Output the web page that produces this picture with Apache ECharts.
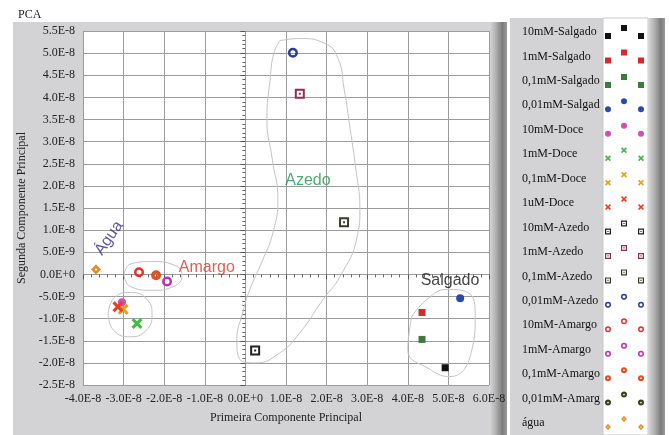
<!DOCTYPE html>
<html>
<head>
<meta charset="utf-8">
<script src="https://cdn.jsdelivr.net/npm/echarts@6/dist/echarts.min.js"></script>
<style>html,body{margin:0;padding:0;background:#fff;}#chart{width:669px;height:435px;}</style>
</head>
<body>
<div id="chart"></div>
<script>
// ---- data (values in units of 1E-8) ----
const seriesNames = ['10mM-Salgado','1mM-Salgado','0,1mM-Salgado','0,01mM-Salgado',
  '10mM-Doce','1mM-Doce','0,1mM-Doce','1uM-Doce',
  '10mM-Azedo','1mM-Azedo','0,1mM-Azedo','0,01mM-Azedo',
  '10mM-Amargo','1mM-Amargo','0,1mM-Amargo','0,01mM-Amargo','água'];
const pc1 = [4.92, 4.35, 4.35, 5.29, -3.04, -2.67, -3.01, -3.14, 0.24, 1.34, 2.43, 1.17, -2.62, -1.93, -2.20, null, -3.68];
const pc2 = [-2.11, -0.86, -1.47, -0.54, -0.63, -1.11, -0.79, -0.73, -1.72, 4.08, 1.18, 5.01, 0.05, -0.16, -0.02, null, 0.11];

const xTicks = {min: -4, max: 6, interval: 1};
const yTicks = {min: -2.5, max: 5.5, interval: 0.5};

// group outlines (hand traced, data units)
const outlineAmargo = [[-2.99,-0.02],[-2.84,0.23],[-2.30,0.29],[-1.73,0.20],[-1.56,-0.02],[-1.76,-0.27],[-2.30,-0.36],[-2.84,-0.27],[-2.99,-0.02]];
const outlineDoce = [[-3.38,-0.91],[-3.24,-0.54],[-2.84,-0.41],[-2.45,-0.54],[-2.30,-0.91],[-2.45,-1.27],[-2.84,-1.41],[-3.24,-1.27],[-3.38,-0.91]];
const outlineSalgado = [[4.10,-0.95],[4.47,-0.57],[4.97,-0.34],[5.48,-0.41],[5.66,-0.95],[5.58,-1.70],[5.04,-2.31],[4.55,-2.15],[4.00,-1.70],[4.10,-0.95]];
const outlineAzedo = [[0.85,5.28],[1.34,5.33],[1.96,5.22],[2.28,4.88],[2.43,4.20],[2.58,3.29],[2.72,2.38],[2.82,1.47],[2.75,0.84],[2.33,-0.05],[1.91,-0.57],[1.34,-1.32],[0.85,-1.77],[0.24,-2.00],[-0.13,-1.93],[-0.21,-1.47],[-0.08,-0.91],[0.11,-0.34],[0.41,0.29],[0.68,0.95],[0.80,1.70],[0.66,2.61],[0.53,3.51],[0.61,4.42],[0.70,4.99],[0.85,5.28]];

const groupLabels = ['Salgado','Amargo','Azedo','Água'];
const groupLabelPos = [[5.04,-0.14],[-0.95,0.16],[1.54,2.13],[-3.36,0.82]];

// ---- styles ----
const colors = ['#111111','#d42a2a','#3d7a3d','#2a4aa8',
  '#d050b0','#44bb44','#e0a020','#e84020',
  '#222222','#8a3050','#3a3a28','#2a3a9a',
  '#e03030','#c030b0','#e05020','#404020','#e08a20'];
const markerTypes = ['sq','sq','sq','dot','dot','cross','cross','cross','hsq','hsq','hsq','ring','ring','ring','fring','fring','dring'];
const markerSizes = [7,7,7,8,8,11,11,11,10,10,10,10,10,10,10,10,10];
const labelColors = ['#111111','#d03a30','#1a9a4a','#3a2a8a'];
const labelRot = [0,0,0,55];

function circ(cx, cy, r, rev) {
  const s = rev ? 0 : 1;
  return `M${cx},${cy-r}A${r},${r} 0 1 ${s} ${cx},${cy+r}A${r},${r} 0 1 ${s} ${cx},${cy-r}Z`;
}
const SHAPES = {
  sq: (x,y,s) => `M${x},${y}h${s}v${s}h${-s}Z`,
  dot: (x,y,s) => circ(x+s/2, y+s/2, s/2, false),
  cross: (x,y,s) => {
    const k = s/10;
    const pts = [[0,2],[2,0],[5,3],[8,0],[10,2],[7,5],[10,8],[8,10],[5,7],[2,10],[0,8],[3,5]];
    return 'M' + pts.map(p => `${x+p[0]*k},${y+p[1]*k}`).join('L') + 'Z';
  },
  hsq: (x,y,s) => {
    const k = s/10;
    return `M${x},${y}h${s}v${s}h${-s}Z M${x+2*k},${y+2*k}v${6*k}h${6*k}v${-6*k}Z M${x+4*k},${y+4*k}h${2*k}v${2*k}h${-2*k}Z`;
  },
  ring: (x,y,s) => circ(x+s/2, y+s/2, s/2, false) + ' ' + circ(x+s/2, y+s/2, s*0.25, true),
  fring: (x,y,s) => circ(x+s/2, y+s/2, s/2, false) + ' ' + circ(x+s/2, y+s/2, s*0.14, true),
  dring: (x,y,s) => {
    const h = s/2, i = s*0.14;
    return `M${x+h},${y}L${x+s},${y+h}L${x+h},${y+s}L${x},${y+h}Z M${x+h},${y+h-i}L${x+h-i},${y+h}L${x+h},${y+h+i}L${x+h+i},${y+h}Z`;
  }
};
function legendIcon(t) {
  return 'path://' + [SHAPES[t](0,8,6), SHAPES[t](16,0,6), SHAPES[t](33,8,6)].join(' ');
}
function fmt(v) {
  const r = Math.round(v*10)/10;
  return (r*1e-8).toExponential(1).toUpperCase();
}

const serif = 'Liberation Serif';
const scatterSeries = seriesNames.map((n, i) => ({
  name: n,
  type: 'scatter',
  symbol: 'path://' + SHAPES[markerTypes[i]](0,0,10),
  symbolSize: markerSizes[i],
  itemStyle: {color: colors[i], opacity: 1},
  data: (pc1[i] === null) ? [] : [[pc1[i], pc2[i]]],
  z: 5
}));

const outlineSeries = [outlineAmargo, outlineDoce, outlineSalgado, outlineAzedo].map(o => ({
  type: 'line', data: o, smooth: 0.5, symbol: 'none', silent: true,
  lineStyle: {color: '#c4c4c4', width: 1}, z: 3
}));

const labelSeries = {
  type: 'scatter', symbolSize: 0, silent: true, z: 6,
  data: groupLabels.map((t, i) => ({
    name: t, value: groupLabelPos[i],
    label: {show: true, position: 'inside', formatter: t, color: labelColors[i], rotate: labelRot[i],
      fontFamily: 'Liberation Sans', fontSize: 16}
  }))
};

const barGrad = {type: 'linear', x: 0, y: 0, x2: 1, y2: 0, colorStops: [
  {offset: 0, color: '#dadada'}, {offset: 0.35, color: '#b4b4b4'}, {offset: 0.75, color: '#7c7c7c'}, {offset: 1, color: '#9a9a9a'}]};

const legendCommon = {
  orient: 'vertical', top: 25, padding: 0, itemHeight: 14, itemGap: 10.44, selectedMode: false
};

const chart = echarts.init(document.getElementById('chart'), null, {renderer: 'canvas'});
chart.setOption({
  animation: false,
  backgroundColor: '#ffffff',
  title: {text: 'PCA', left: 13, top: 4, textStyle: {fontFamily: serif, fontSize: 12, fontWeight: 'normal', color: '#222'}},
  graphic: [
    {type: 'rect', z: -10, silent: true, shape: {x: 13, y: 22, width: 494, height: 413}, style: {fill: '#d3d3d5'}},
    {type: 'rect', z: -9, silent: true, shape: {x: 489, y: 22, width: 18, height: 413}, style: {fill: barGrad}},
    {type: 'rect', z: -10, silent: true, shape: {x: 510, y: 18, width: 93, height: 417}, style: {fill: '#d3d3d5'}},
    {type: 'rect', z: -10, silent: true, shape: {x: 603, y: 18, width: 45, height: 417}, style: {fill: '#ffffff', stroke: '#c8c8c8', lineWidth: 1}},
    {type: 'rect', z: -9, silent: true, shape: {x: 648, y: 18, width: 17, height: 417}, style: {fill: barGrad}}
  ],
  grid: {left: 83, right: 180, top: 31, bottom: 50, show: true, backgroundColor: '#ffffff', borderWidth: 0, containLabel: false},
  legend: [
    Object.assign({}, legendCommon, {
      left: 517, align: 'left', itemWidth: 0,
      data: seriesNames.map(n => ({name: n, icon: 'none'})),
      textStyle: {fontFamily: serif, fontSize: 12, lineHeight: 14, color: '#111', width: 81, overflow: 'truncate', ellipsis: ''}
    }),
    Object.assign({}, legendCommon, {
      left: 605, align: 'left', itemWidth: 39,
      data: seriesNames.map((n, i) => ({name: n, icon: legendIcon(markerTypes[i])})),
      formatter: () => '',
      textStyle: {fontSize: 12, lineHeight: 14}
    })
  ],
  xAxis: {
    type: 'value', min: xTicks.min, max: xTicks.max, interval: xTicks.interval,
    name: 'Primeira Componente Principal', nameLocation: 'middle', nameGap: 27,
    nameTextStyle: {fontFamily: serif, fontSize: 12, color: '#222'},
    axisLine: {show: false},
    axisTick: {show: true, length: 5, lineStyle: {color: '#555'}},
    minorTick: {show: true, splitNumber: 5, length: 3, lineStyle: {color: '#666'}},
    axisLabel: {formatter: fmt, fontFamily: serif, fontSize: 12, color: '#222', margin: 8},
    splitLine: {show: true, lineStyle: {color: '#9c9c9c', width: 1}}
  },
  yAxis: {
    type: 'value', min: yTicks.min, max: yTicks.max, interval: yTicks.interval,
    name: 'Segunda Componente Principal', nameLocation: 'middle', nameGap: 54,
    nameTextStyle: {fontFamily: serif, fontSize: 12, color: '#222'},
    axisLine: {show: false},
    axisTick: {show: true, length: 5, lineStyle: {color: '#555'}},
    minorTick: {show: true, splitNumber: 5, length: 3, lineStyle: {color: '#666'}},
    axisLabel: {formatter: fmt, fontFamily: serif, fontSize: 12, color: '#222', margin: 8},
    splitLine: {show: true, lineStyle: {color: '#9c9c9c', width: 1}}
  },
  series: outlineSeries.concat(scatterSeries).concat([labelSeries])
});
</script>
</body>
</html>
